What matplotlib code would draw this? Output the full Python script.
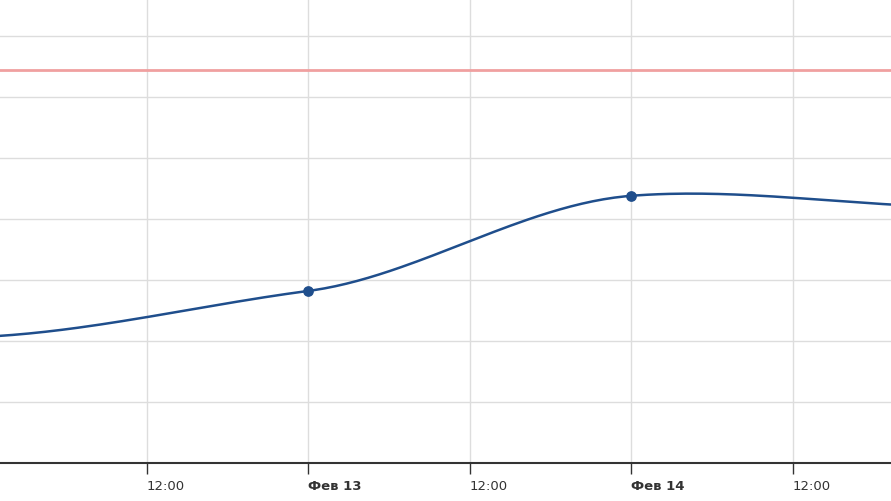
import numpy as np
import matplotlib
matplotlib.use("Agg")
import matplotlib.pyplot as plt

# days since Feb 12 00:00
days = [-1.0, 0.0, 1.0, 2.0, 3.0]
values = [1.95, 2.07, 2.82, 4.38, 4.2]
marker_days = [1.0, 2.0]
marker_vals = [2.82, 4.38]
threshold = 6.44
tick_pos = [0.0, 0.5, 1.0, 1.5, 2.0, 2.5]
tick_lbl = ["Фев 12", "12:00", "Фев 13", "12:00", "Фев 14", "12:00"]


def catmull(xs, ys, n=60):
    xs, ys = np.asarray(xs), np.asarray(ys)
    px = np.concatenate([[2 * xs[0] - xs[1]], xs, [2 * xs[-1] - xs[-2]]])
    py = np.concatenate([[ys[0]], ys, [ys[-1]]])
    ox, oy = [], []
    for i in range(1, len(px) - 2):
        t = np.linspace(0, 1, n)
        h00 = 2*t**3 - 3*t**2 + 1; h10 = t**3 - 2*t**2 + t
        h01 = -2*t**3 + 3*t**2; h11 = t**3 - t**2
        m0 = (py[i+1] - py[i-1]) / 2 * 0.6
        m1 = (py[i+2] - py[i]) / 2 * 0.6
        ox.append(px[i] + (px[i+1] - px[i]) * t)
        oy.append(h00*py[i] + h10*m0 + h01*py[i+1] + h11*m1)
    return np.concatenate(ox), np.concatenate(oy)


fig = plt.figure(figsize=(8.91, 5.01), dpi=100)
ax = fig.add_axes([0, 1 - 463/501, 1, 463/501])
sx, sy = catmull(days, values)
ax.plot(sx, sy, color="#1f4e8c", lw=1.8, zorder=3)
ax.scatter(marker_days, marker_vals, color="#1f4e8c", s=45, zorder=4)
ax.axhline(threshold, color="#f0a0a0", lw=2, zorder=2)

ax.set_yticks(range(0, 8))
ax.set_yticklabels([])
ax.tick_params(axis="y", length=0)
ax.set_xticks(tick_pos)
ax.set_xticklabels(tick_lbl)
for lbl, t in zip(ax.get_xticklabels(), tick_lbl):
    lbl.set_fontweight("bold" if "Фев" in t else "normal")
    lbl.set_fontsize(9.5)
    lbl.set_color("#333333")
    lbl.set_horizontalalignment("left")
ax.tick_params(axis="x", length=8, width=1, color="#333333", pad=4)
ax.set_xlim(15/323, 906/323)
ax.set_ylim(0, 463/61)
ax.grid(True, color="#dddddd", lw=1)
for s in ["top", "left", "right"]:
    ax.spines[s].set_visible(False)
ax.spines["bottom"].set_color("#333333")
ax.spines["bottom"].set_linewidth(1.5)

fig.savefig("out.png", dpi=100)
